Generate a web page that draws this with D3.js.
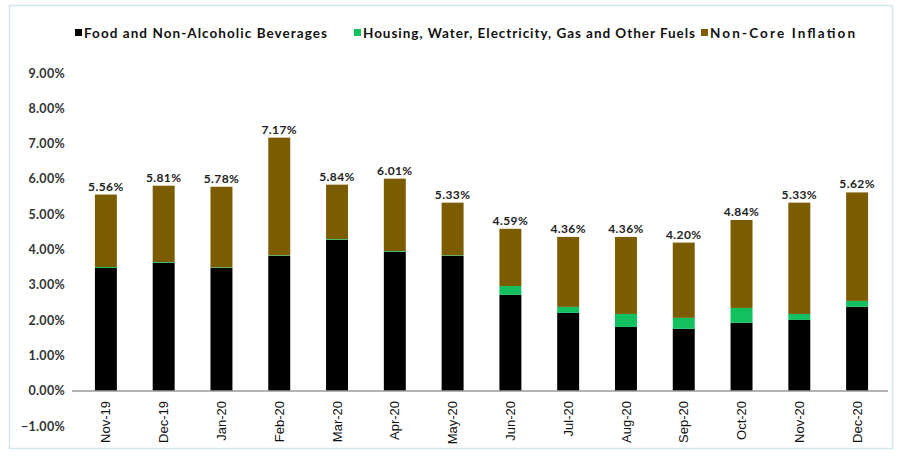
<!DOCTYPE html>
<html>
<head>
<meta charset="utf-8">
<script src="https://cdn.jsdelivr.net/npm/d3@7/dist/d3.min.js"></script>
<style>
  html, body { margin: 0; padding: 0; background: #fff; }
  svg { display: block; }
</style>
</head>
<body>
<svg id="chart" width="900" height="460"></svg>
<script>
// Monthly contribution to headline inflation (percentage points)
const months = ["Nov-19","Dec-19","Jan-20","Feb-20","Mar-20","Apr-20","May-20",
                "Jun-20","Jul-20","Aug-20","Sep-20","Oct-20","Nov-20","Dec-20"];
const food    = [3.48, 3.63, 3.48, 3.82, 4.28, 3.94, 3.82, 2.72, 2.21, 1.81, 1.76, 1.93, 2.01, 2.38];
const housing = [0.03, 0.02, 0.02, 0.02, 0.02, 0.02, 0.02, 0.25, 0.17, 0.37, 0.31, 0.42, 0.17, 0.17];
const headline = [5.56, 5.81, 5.78, 7.17, 5.84, 6.01, 5.33, 4.59, 4.36, 4.36, 4.20, 4.84, 5.33, 5.62];
// Non-core part is what remains of the headline figure
const nonCore = headline.map((t, i) => +(t - food[i] - housing[i]).toFixed(2));
const yTicks = [-1, 0, 1, 2, 3, 4, 5, 6, 7, 8, 9];

const seriesNames = ["Food and Non-Alcoholic Beverages",
                     "Housing, Water, Electricity, Gas and Other Fuels",
                     "Non-Core Inflation"];
const colors = ["#000000", "#12c060", "#7c5c00"];

const svg = d3.select("#chart");

// light frame around the chart
svg.append("rect")
  .attr("x", 9.5).attr("y", 5.5).attr("width", 883).attr("height", 443)
  .attr("fill", "#fff").attr("stroke", "#cfe8ee").attr("stroke-width", 1.5);

const x = d3.scaleBand().domain(months).range([77, 886])
  .paddingInner(0.62).paddingOuter(0.31);
const y = d3.scaleLinear().domain([-1, 9]).range([426.3, 73]);

const rows = months.map((m, i) => ({
  month: m, s0: food[i], s1: housing[i], s2: nonCore[i], total: headline[i]
}));
const stack = d3.stack().keys(["s0", "s1", "s2"]);
const layers = stack(rows);

// stacked bars
svg.append("g").selectAll("g")
  .data(layers)
  .join("g")
  .attr("fill", (d, i) => colors[i])
  .selectAll("rect")
  .data(d => d)
  .join("rect")
  .attr("x", d => x(d.data.month))
  .attr("width", x.bandwidth())
  .attr("y", d => y(d[1]))
  .attr("height", d => Math.max(0, y(d[0]) - y(d[1])));

// zero baseline
svg.append("line")
  .attr("x1", 72).attr("x2", 888)
  .attr("y1", y(0)).attr("y2", y(0))
  .attr("stroke", "#9a9a9a").attr("stroke-width", 1.5);

// y axis labels
const yAxis = d3.axisLeft(y).tickValues(yTicks)
  .tickFormat(d => d3.format(".2f")(d) + "%").tickSize(0).tickPadding(0);
const gy = svg.append("g").attr("transform", "translate(65,0)").call(yAxis);
gy.select(".domain").remove();
gy.selectAll("text")
  .attr("font-family", "Lato, 'Open Sans', sans-serif")
  .attr("font-weight", "bold")
  .attr("font-size", 12.5)
  .attr("letter-spacing", 0.3)
  .attr("fill", "#333");

// x axis labels, rotated
const xAxis = d3.axisBottom(x).tickSize(0);
const gx = svg.append("g").attr("transform", `translate(0,${y(0) + 10})`).call(xAxis);
gx.select(".domain").remove();
gx.selectAll("text")
  .attr("font-family", "'Liberation Sans', Arial, sans-serif")
  .attr("font-size", 13)
  .attr("fill", "#111")
  .attr("transform", "rotate(-90)")
  .attr("text-anchor", "end")
  .attr("x", 0).attr("y", 0).attr("dx", 0).attr("dy", "0.35em");

// value labels on top of each bar
svg.append("g").selectAll("text")
  .data(rows)
  .join("text")
  .attr("x", d => x(d.month) + x.bandwidth() / 2)
  .attr("y", d => y(d.total) - 4)
  .attr("text-anchor", "middle")
  .attr("font-family", "Lato, 'Open Sans', sans-serif")
  .attr("font-weight", "bold")
  .attr("font-size", 12)
  .attr("letter-spacing", 0.4)
  .attr("fill", "#222")
  .text(d => d3.format(".2f")(d.total) + "%");

// legend
const legendX = [75, 354, 701];
const legendW = [243, 332, 145];
const lg = svg.append("g").attr("transform", "translate(0,33)");
seriesNames.forEach((name, i) => {
  lg.append("rect")
    .attr("x", legendX[i]).attr("y", -4).attr("width", 7).attr("height", 7)
    .attr("fill", colors[i]);
  lg.append("text")
    .attr("x", legendX[i] + 9).attr("y", 0).attr("dy", "0.35em")
    .attr("font-family", "Lato, 'Open Sans', sans-serif")
    .attr("font-weight", "bold")
    .attr("font-size", 13.5)
    .attr("textLength", legendW[i])
    .attr("lengthAdjust", "spacing")
    .attr("fill", "#111")
    .text(name);
});
</script>
</body>
</html>
